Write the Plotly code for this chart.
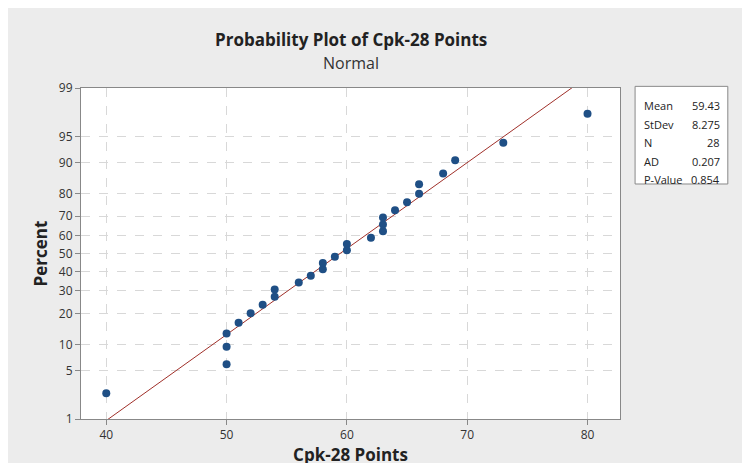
import numpy as np
from statistics import NormalDist
import plotly.graph_objects as go

values = [40, 50, 50, 50, 51, 52, 53, 54, 54, 56, 57, 58, 58, 59, 60, 60,
          62, 63, 63, 63, 64, 65, 66, 66, 68, 69, 73, 80]
pct_ticks = [1, 5, 10, 20, 30, 40, 50, 60, 70, 80, 90, 95, 99]
stat_names = ["Mean", "StDev", "N", "AD", "P-Value"]
stat_vals = ["59.43", "8.275", "28", "0.207", "0.854"]

nd = NormalDist()
n = len(values)
mean, sd = 59.43, 8.275
# median ranks as Minitab does
z_pts = [nd.inv_cdf((i - 0.3) / (n + 0.4)) for i in range(1, n + 1)]
xl = np.linspace(36, 84, 200)
zl = (xl - mean) / sd

fig = go.Figure()
fig.add_trace(go.Scatter(x=xl, y=zl, mode="lines", line=dict(color="#a0302a", width=1)))
fig.add_trace(go.Scatter(x=values, y=z_pts, mode="markers",
                         marker=dict(color="#1f4f85", size=8)))

zr = nd.inv_cdf(0.99)
grid = dict(showgrid=True, gridcolor="#d8d8d8", griddash="dash", gridwidth=1,
            showline=True, linecolor="#888", mirror=True, ticks="outside",
            tickcolor="#888", zeroline=False, tickfont=dict(size=12, color="#333"))
fig.update_xaxes(range=[37.9, 82.7], tickvals=[40, 50, 60, 70, 80], **grid,
                 title=dict(text="<b>Cpk-28 Points</b>", font=dict(size=17, color="#222"),
                            standoff=4))
fig.update_yaxes(range=[-zr, zr], tickvals=[nd.inv_cdf(p / 100) for p in pct_ticks],
                 ticktext=[str(p) for p in pct_ticks], **grid,
                 title=dict(text="<b>Percent</b>", font=dict(size=17, color="#222"),
                            standoff=6))

fig.add_annotation(x=0.5, y=1.0, xref="paper", yref="paper", yshift=62, showarrow=False,
                   text="<b>Probability Plot of Cpk-28 Points</b>",
                   font=dict(size=17, color="#222"))
fig.add_annotation(x=0.5, y=1.0, xref="paper", yref="paper", yshift=38, showarrow=False,
                   text="Normal", font=dict(size=16, color="#333"))

fig.add_shape(type="rect", xref="paper", yref="paper", x0=1.028, x1=1.2, y0=0.71, y1=1.005,
              line=dict(color="#888", width=1), fillcolor="white")
for i, (nm, v) in enumerate(zip(stat_names, stat_vals)):
    yy = 0.975 - i * 0.056
    fig.add_annotation(x=1.04, y=yy, xref="paper", yref="paper", text=nm, showarrow=False,
                       xanchor="left", font=dict(size=11, color="#222"))
    fig.add_annotation(x=1.19, y=yy, xref="paper", yref="paper", text=v, showarrow=False,
                       xanchor="right", font=dict(size=11, color="#222"))

fig.update_layout(width=750, height=463, showlegend=False,
                  margin=dict(l=73, r=138, t=80, b=50),
                  paper_bgcolor="#ececec", plot_bgcolor="white",
                  font=dict(family="Open Sans"))
fig.write_html("out.html")
